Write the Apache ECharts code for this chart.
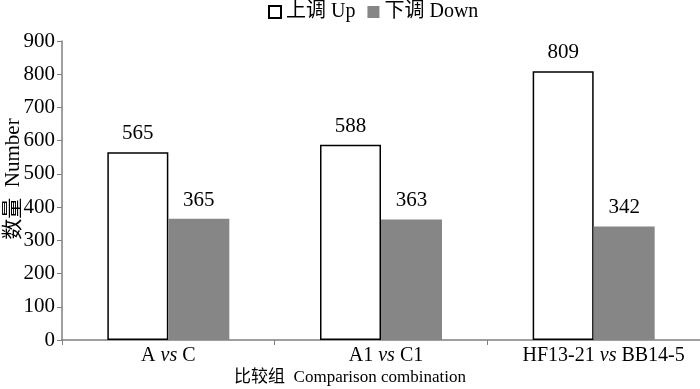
<!DOCTYPE html>
<html><head><meta charset="utf-8">
<script src="https://cdn.jsdelivr.net/npm/echarts@6/dist/echarts.min.js"></script>
<style>html,body{margin:0;padding:0;background:#fff}#c{width:700px;height:389px}</style>
</head><body><div id="c"></div>
<script>
const categories = ['A vs C', 'A1 vs C1', 'HF13-21 vs BB14-5'];
const upValues = [565, 588, 809];
const downValues = [365, 363, 342];
const yTicks = {min: 0, max: 900, interval: 100};
const seriesNames = ['上调 Up', '下调 Down'];

const FONT = '"Liberation Serif", "Noto Sans CJK SC", serif';
const FS = 21;
const labelShift = [0, 10, 20];
const chart = echarts.init(document.getElementById('c'));
chart.setOption({
  animation: false,
  backgroundColor: '#fff',
  textStyle: {fontFamily: FONT, color: '#000'},
  legend: {
    top: -3, left: 263, itemWidth: 12, itemHeight: 12, itemGap: 12,
    icon: 'rect',
    textStyle: {fontFamily: FONT, fontSize: 20, color: '#000'},
    data: seriesNames
  },
  grid: {left: 62, right: 0, top: 41, bottom: 49, containLabel: false, outerBoundsMode: 'none'},
  xAxis: {
    type: 'category',
    data: categories.map((c, i) => ({value: c, textStyle: {padding: [0, 0, 0, labelShift[i]]}})),
    name: '比较组  Comparison combination', nameLocation: 'middle', nameGap: 29,
    nameMoveOverlap: false,
    nameTextStyle: {fontFamily: FONT, fontSize: 17, color: '#000', padding: [0, 62, 0, 0]},
    axisLine: {lineStyle: {color: '#808080', width: 1.5}},
    axisTick: {show: true, alignWithLabel: false, length: 5, lineStyle: {color: '#808080'}},
    axisLabel: {
      interval: 0,
      fontFamily: FONT, fontSize: 20, color: '#000', margin: 6,
      formatter: v => v.replace(' vs ', ' {i|vs} '),
      rich: {i: {fontStyle: 'italic', fontFamily: FONT, fontSize: 20, color: '#000'}}
    }
  },
  yAxis: {
    type: 'value', min: yTicks.min, max: yTicks.max, interval: yTicks.interval,
    name: '数量  Number', nameLocation: 'middle', nameGap: 38, nameRotate: 90,
    nameMoveOverlap: false,
    nameTextStyle: {fontFamily: FONT, fontSize: 21, color: '#000', padding: [0, 0, 0, 23]},
    axisLine: {show: true, lineStyle: {color: '#808080', width: 1.5}},
    axisTick: {show: true, length: 5, lineStyle: {color: '#808080'}},
    splitLine: {show: false},
    axisLabel: {fontFamily: FONT, fontSize: FS, color: '#000', margin: 7}
  },
  series: [
    {
      name: seriesNames[0], type: 'bar', data: upValues, barWidth: 61, barGap: '0%',
      itemStyle: {color: '#fff', borderColor: '#000', borderWidth: 1.5},
      label: {show: true, position: 'top', distance: 8, fontFamily: FONT, fontSize: FS, color: '#000'}
    },
    {
      name: seriesNames[1], type: 'bar', data: downValues, barWidth: 61, barGap: '0%',
      itemStyle: {color: '#868686'},
      label: {show: true, position: 'top', distance: 8, fontFamily: FONT, fontSize: FS, color: '#000'}
    }
  ]
});
</script></body></html>
